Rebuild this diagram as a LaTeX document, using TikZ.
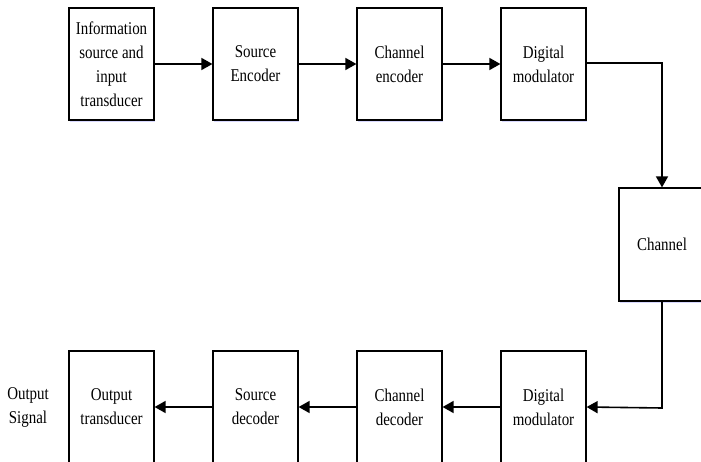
\documentclass[tikz,border=0pt]{standalone}
\usepackage{fontspec}
\newfontfamily\blockfont[FakeStretch=0.83]{Liberation Serif}
\usetikzlibrary{arrows.meta,shadows}
\begin{document}
\begin{tikzpicture}[x=1pt,y=-1pt,
  blk/.style={draw, line width=1.2pt, fill=white, minimum width=85pt, minimum height=112pt,
    inner sep=2pt, align=center, font=\blockfont\fontsize{18}{24}\selectfont,
    drop shadow={shadow xshift=0.6pt, shadow yshift=-2pt, fill=blue!30, opacity=0.5}},
  flow/.style={line width=1.6pt, -{Triangle[length=11pt,width=12pt]}},
  lbl/.style={align=center, font=\blockfont\fontsize{18}{24}\selectfont, inner sep=0pt}]
\useasboundingbox (0,0) rectangle (701,462);
\clip (0,0) rectangle (701,462);
\fill[white] (0,0) rectangle (701,462);

% transmitter chain
\node[blk] (src)  at (111.5,64) {Information\\source and\\input\\transducer};
\node[blk] (senc) at (255.5,64) {Source\\Encoder};
\node[blk] (cenc) at (399.5,64) {Channel\\encoder};
\node[blk] (mod)  at (543.5,64) {Digital\\modulator};

% channel
\node[blk, minimum width=86pt, minimum height=113pt] (chan) at (662,244.5) {Channel};

% receiver chain
\node[blk] (dem)  at (543.5,407) {Digital\\modulator};
\node[blk] (cdec) at (399.5,407) {Channel\\decoder};
\node[blk] (sdec) at (255.5,407) {Source\\decoder};
\node[blk] (out)  at (111.5,407) {Output\\transducer};

\node[lbl] (sig) at (28,407) {Output\\Signal};

% connectors
\draw[flow] (src) -- (senc);
\draw[flow] (senc) -- (cenc);
\draw[flow] (cenc) -- (mod);
\draw[flow] (mod.east |- 0,63) -| (chan.north);
\coordinate (turn) at (662,408);
\draw[flow] (chan.south) -- (turn) -- (dem.east);
\draw[flow] (dem) -- (cdec);
\draw[flow] (cdec) -- (sdec);
\draw[flow] (sdec) -- (out);
\end{tikzpicture}
\end{document}
